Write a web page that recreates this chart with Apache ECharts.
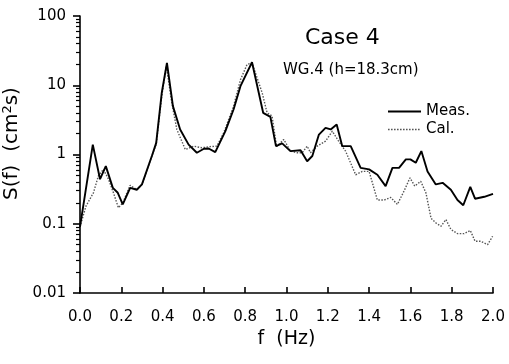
<!DOCTYPE html>
<html>
<head>
<meta charset="utf-8">
<script src="https://cdn.jsdelivr.net/npm/echarts@6/dist/echarts.min.js"></script>
<style>
  html, body { margin: 0; padding: 0; background: #fff; }
  #chart { width: 509px; height: 364px; }
</style>
</head>
<body>
<div id="chart"></div>
<script>
// Measured spectrum (frequency Hz, S(f) cm^2 s)
const measF = [0, 0.062, 0.097, 0.125, 0.159, 0.183, 0.207, 0.243, 0.275, 0.30, 0.348, 0.369, 0.396, 0.421, 0.45, 0.485, 0.526, 0.566, 0.60, 0.623, 0.655, 0.704, 0.744, 0.777, 0.833, 0.887, 0.922, 0.949, 0.979, 1.019, 1.068, 1.10, 1.125, 1.157, 1.189, 1.214, 1.243, 1.27, 1.311, 1.359, 1.40, 1.44, 1.48, 1.513, 1.545, 1.578, 1.60, 1.626, 1.653, 1.683, 1.723, 1.756, 1.796, 1.828, 1.856, 1.89, 1.913, 1.958, 2.0];
const measV = [0.09, 1.39, 0.44, 0.68, 0.33, 0.28, 0.19, 0.33, 0.31, 0.37, 0.95, 1.47, 7.8, 21, 5.0, 2.3, 1.39, 1.06, 1.21, 1.22, 1.08, 2.17, 4.5, 9.7, 21.5, 4.0, 3.5, 1.32, 1.45, 1.12, 1.15, 0.80, 0.95, 1.94, 2.43, 2.3, 2.71, 1.32, 1.32, 0.64, 0.61, 0.51, 0.35, 0.64, 0.64, 0.85, 0.85, 0.76, 1.12, 0.57, 0.37, 0.39, 0.31, 0.22, 0.185, 0.34, 0.23, 0.245, 0.27];

// Calculated spectrum
const calF = [0, 0.029, 0.065, 0.089, 0.113, 0.138, 0.162, 0.186, 0.207, 0.243, 0.275, 0.30, 0.348, 0.369, 0.396, 0.418, 0.445, 0.469, 0.51, 0.55, 0.59, 0.63, 0.663, 0.696, 0.744, 0.777, 0.809, 0.833, 0.882, 0.906, 0.93, 0.952, 0.987, 1.019, 1.052, 1.076, 1.10, 1.116, 1.149, 1.189, 1.222, 1.25, 1.286, 1.335, 1.367, 1.40, 1.44, 1.473, 1.505, 1.537, 1.57, 1.598, 1.621, 1.65, 1.675, 1.70, 1.723, 1.748, 1.772, 1.796, 1.828, 1.86, 1.89, 1.913, 1.94, 1.974, 1.998];
const calV = [0.09, 0.18, 0.28, 0.49, 0.61, 0.44, 0.28, 0.17, 0.2, 0.36, 0.31, 0.37, 0.95, 1.4, 7.0, 19, 5.5, 2.3, 1.18, 1.32, 1.25, 1.3, 1.32, 2.06, 5.0, 12, 20, 21, 7.8, 4.0, 3.6, 1.3, 1.65, 1.12, 1.06, 1.06, 1.32, 1.06, 1.32, 1.56, 2.17, 1.6, 1.12, 0.51, 0.57, 0.57, 0.22, 0.22, 0.24, 0.19, 0.30, 0.46, 0.35, 0.41, 0.28, 0.12, 0.103, 0.092, 0.115, 0.083, 0.072, 0.072, 0.08, 0.056, 0.056, 0.05, 0.066];

// Axis settings
const xTickMin = 0, xTickMax = 2.0, xTickStep = 0.2;
const yMin = 0.01, yMax = 100;

const FONT = 'DejaVu Sans';
const zip = (a, b) => a.map((v, i) => [v, b[i]]);

// legend icons (line samples)
const solidIcon = 'path://M0,0 L33,0 L33,2 L0,2 Z';
let dotted = '';
for (let i = 0; i < 11; i++) {
  const x = i * 3;
  dotted += `M${x},0 L${x + 1.6},0 L${x + 1.6},1.4 L${x},1.4 Z `;
}
dotted += 'M33,0 L33,1.4 Z';
const dottedIcon = 'path://' + dotted;

const chart = echarts.init(document.getElementById('chart'), null, { renderer: 'canvas' });
chart.setOption({
  backgroundColor: '#fff',
  animation: false,
  title: [
    { text: 'Case 4', left: 305, top: 27, padding: 0,
      textStyle: { fontFamily: FONT, fontSize: 22, fontWeight: 'normal', color: '#000' } },
    { text: 'WG.4 (h=18.3cm)', left: 283, top: 63, padding: 0,
      textStyle: { fontFamily: FONT, fontSize: 15, fontWeight: 'normal', color: '#000' } }
  ],
  legend: {
    orient: 'vertical',
    left: 388, top: 104,
    itemWidth: 33, itemHeight: 14, itemGap: 3,
    padding: 0,
    itemStyle: { borderWidth: 0 },
    data: [
      { name: 'Meas.', icon: solidIcon, itemStyle: { color: '#000' } },
      { name: 'Cal.', icon: dottedIcon, itemStyle: { color: '#555' } }
    ],
    textStyle: { fontFamily: FONT, fontSize: 15, color: '#000' }
  },
  grid: { left: 80, right: 16, top: 16, bottom: 71, containLabel: false, outerBoundsMode: 'none' },
  xAxis: {
    type: 'value', min: xTickMin, max: xTickMax, interval: xTickStep,
    name: 'f  (Hz)', nameLocation: 'middle', nameGap: 37,
    nameTextStyle: { fontFamily: FONT, fontSize: 19, color: '#000' },
    axisLine: { show: true, lineStyle: { color: '#000', width: 1.6 } },
    axisTick: { show: true, inside: true, length: 6, lineStyle: { color: '#000', width: 1.6 } },
    axisLabel: { fontFamily: FONT, fontSize: 15, color: '#000', margin: 17,
                 formatter: v => v.toFixed(1) },
    splitLine: { show: false }
  },
  yAxis: {
    type: 'log', logBase: 10, min: yMin, max: yMax,
    name: 'S(f)  (cm{sup|2}s)', nameLocation: 'middle', nameGap: 52, nameRotate: 90,
    nameTextStyle: { fontFamily: FONT, fontSize: 20, color: '#000', padding: [0, 0, 0, 22],
      rich: { sup: { fontFamily: FONT, fontSize: 13, color: '#000', padding: [0, 0, 9, 0] } } },
    axisLine: { show: true, onZero: false, lineStyle: { color: '#000', width: 1.6 } },
    axisTick: { show: true, inside: false, length: 7, lineStyle: { color: '#000', width: 1.6 } },
    axisLabel: { fontFamily: FONT, fontSize: 15, color: '#000', margin: 14,
                 formatter: v => String(v) },
    splitLine: { show: false },
    minorTick: { show: true, splitNumber: 9, length: 4, lineStyle: { color: '#000', width: 1.2 } }
  },
  series: [
    {
      name: 'Meas.', type: 'line', data: zip(measF, measV),
      symbol: 'none', smooth: false,
      lineStyle: { color: '#000', width: 1.9, type: 'solid' },
      itemStyle: { color: '#000' }, z: 3
    },
    {
      name: 'Cal.', type: 'line', data: zip(calF, calV),
      symbol: 'none', smooth: false,
      lineStyle: { color: '#555', width: 1.4, type: [1.5, 1.5] },
      itemStyle: { color: '#555' }, z: 2
    }
  ]
});
</script>
</body>
</html>
